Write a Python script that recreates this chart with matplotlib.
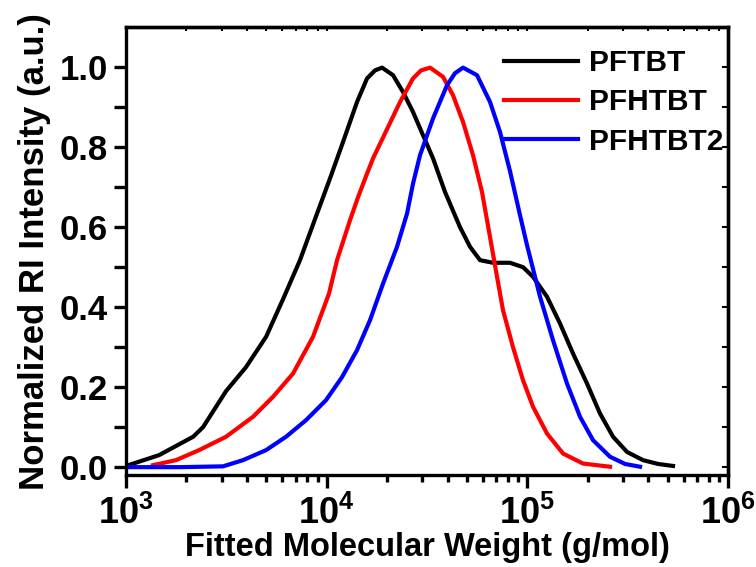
import math
import matplotlib
matplotlib.use('Agg')
import matplotlib.pyplot as plt
from matplotlib.ticker import LogLocator, FixedLocator, FuncFormatter, NullFormatter

plt.rcParams['font.family'] = ['Liberation Sans', 'DejaVu Sans']
plt.rcParams['font.weight'] = 'bold'
plt.rcParams['mathtext.fontset'] = 'custom'
plt.rcParams['mathtext.rm'] = 'Liberation Sans:bold'
plt.rcParams['mathtext.bf'] = 'Liberation Sans:bold'
plt.rcParams['mathtext.it'] = 'Liberation Sans:bold'

# GPC traces, molecular weight (g/mol) vs normalized RI signal
mw_pftbt = [1000, 1460, 2160, 2420, 3150, 3960, 4990, 6060, 7360, 8950,
            10390, 12060, 14160, 15890, 17410, 18870, 21410, 24010, 26930,
            30200, 33880, 38880, 46170, 51800, 58090, 67440, 81960, 95150,
            106700, 125300, 145500, 168900, 198300, 230200, 267300, 313800,
            377000, 447900, 531900]
ri_pftbt = [0.003, 0.03, 0.076, 0.10, 0.19, 0.25, 0.326, 0.42, 0.5175, 0.634,
            0.722, 0.813, 0.913, 0.972, 0.992, 0.999, 0.98, 0.938, 0.888,
            0.83, 0.772, 0.688, 0.60, 0.551, 0.5175, 0.511, 0.511, 0.50,
            0.476, 0.426, 0.359, 0.284, 0.209, 0.134, 0.076, 0.038,
            0.0175, 0.008, 0.003]

mw_pfhtbt = [1363, 1775, 2311, 3150, 4295, 5403, 6796, 8549, 10270, 11260,
             13070, 14330, 15890, 17020, 19980, 23200, 26930, 29520, 32730, 37990,
             42610, 47800, 53610, 59430, 65170, 70610, 75620, 84810, 95130,
             106700, 125300, 150600, 189400, 258200]
ri_pfhtbt = [0.005, 0.0175, 0.0425, 0.076, 0.126, 0.176, 0.234, 0.326, 0.434, 0.5175,
             0.6175, 0.675, 0.734, 0.772, 0.845, 0.913, 0.972, 0.992, 0.999, 0.976,
             0.93, 0.863, 0.78, 0.688, 0.575, 0.476, 0.3925, 0.30, 0.2175,
             0.151, 0.084, 0.034, 0.009, 0.001]

mw_pfhtbt2 = [1000, 1858, 3044, 3828, 4985, 6271, 7888, 9922, 11920, 14160,
              16440, 19090, 22410, 25140, 26930, 29180, 33880, 39780, 43600,
              47800, 56120, 65170, 73070, 81960, 91920, 99610, 115700, 134200,
              157600, 183000, 212400, 258200, 306700, 364300]
ri_pfhtbt2 = [0.0, 0.0, 0.002, 0.0175, 0.0425, 0.076, 0.1175, 0.1675, 0.225, 0.2925,
              0.3675, 0.459, 0.551, 0.634, 0.709, 0.78, 0.872, 0.955, 0.985,
              0.999, 0.98, 0.913, 0.838, 0.74, 0.63, 0.555, 0.426, 0.3175,
              0.209, 0.126, 0.0675, 0.026, 0.008, 0.001]

fig = plt.figure(figsize=(7.56, 5.67), dpi=100)
ax = fig.add_axes([0.1667, 0.162, 0.7963, 0.79])

lw = 3.0
ax.plot(mw_pftbt, ri_pftbt, color='black', lw=lw, label='PFTBT', solid_joinstyle='round')
ax.plot(mw_pfhtbt, ri_pfhtbt, color='#ff0000', lw=lw, label='PFHTBT', solid_joinstyle='round')
ax.plot(mw_pfhtbt2, ri_pfhtbt2, color='#0000ff', lw=lw, label='PFHTBT2', solid_joinstyle='round')

ax.set_xscale('log')
ax.set_xlim(1e3, 1e6)
ax.set_ylim(-0.02, 1.1)

for s in ax.spines.values():
    s.set_linewidth(2.4)

yticks = [0.0, 0.2, 0.4, 0.6, 0.8, 1.0]
yminor = [0.1, 0.3, 0.5, 0.7, 0.9]

ax.xaxis.set_major_locator(LogLocator(base=10, numticks=10))
ax.xaxis.set_minor_locator(LogLocator(base=10, subs=range(2, 10), numticks=20))
ax.xaxis.set_minor_formatter(NullFormatter())
ax.xaxis.set_major_formatter(FuncFormatter(lambda v, p: r'$10^{%d}$' % round(math.log10(v))))
ax.yaxis.set_major_locator(FixedLocator(yticks))
ax.yaxis.set_minor_locator(FixedLocator(yminor))
ax.yaxis.set_major_formatter(FuncFormatter(lambda v, p: '%.1f' % v))

ax.tick_params(axis='both', which='major', direction='out', length=9, width=2.4,
               labelsize=25, pad=4)
ax.tick_params(axis='y', which='minor', direction='out', length=9, width=2.4)
ax.tick_params(axis='x', which='minor', direction='out', length=5, width=2.4)
ax.tick_params(axis='x', which='major', labelsize=26, pad=6)

# mirrored inner ticks on top and right
top = ax.secondary_xaxis('top')
top.xaxis.set_major_locator(LogLocator(base=10, numticks=10))
top.xaxis.set_minor_locator(LogLocator(base=10, subs=range(2, 10), numticks=20))
top.tick_params(which='both', direction='in', length=3, width=1.5, labeltop=False)
top.xaxis.set_minor_formatter(NullFormatter())
top.spines['top'].set_linewidth(2.4)
right = ax.secondary_yaxis('right')
right.yaxis.set_major_locator(FixedLocator(yticks))
right.yaxis.set_minor_locator(FixedLocator(yminor))
right.tick_params(which='both', direction='in', length=4, width=1.5, labelright=False)
right.spines['right'].set_linewidth(2.4)

ax.set_xlabel('Fitted Molecular Weight (g/mol)', fontsize=23.5, fontweight='bold', labelpad=0)
ax.set_ylabel('Normalized RI Intensity (a.u.)', fontsize=25, fontweight='bold', labelpad=6)

ax.legend(loc='upper right', bbox_to_anchor=(1.012, 0.978), frameon=False,
          handlelength=2.5, handletextpad=0.35, labelspacing=0.38,
          borderaxespad=0.1, borderpad=0.3, prop={'weight': 'bold', 'size': 21.5})

plt.savefig('out.png', dpi=100)
plt.close()
